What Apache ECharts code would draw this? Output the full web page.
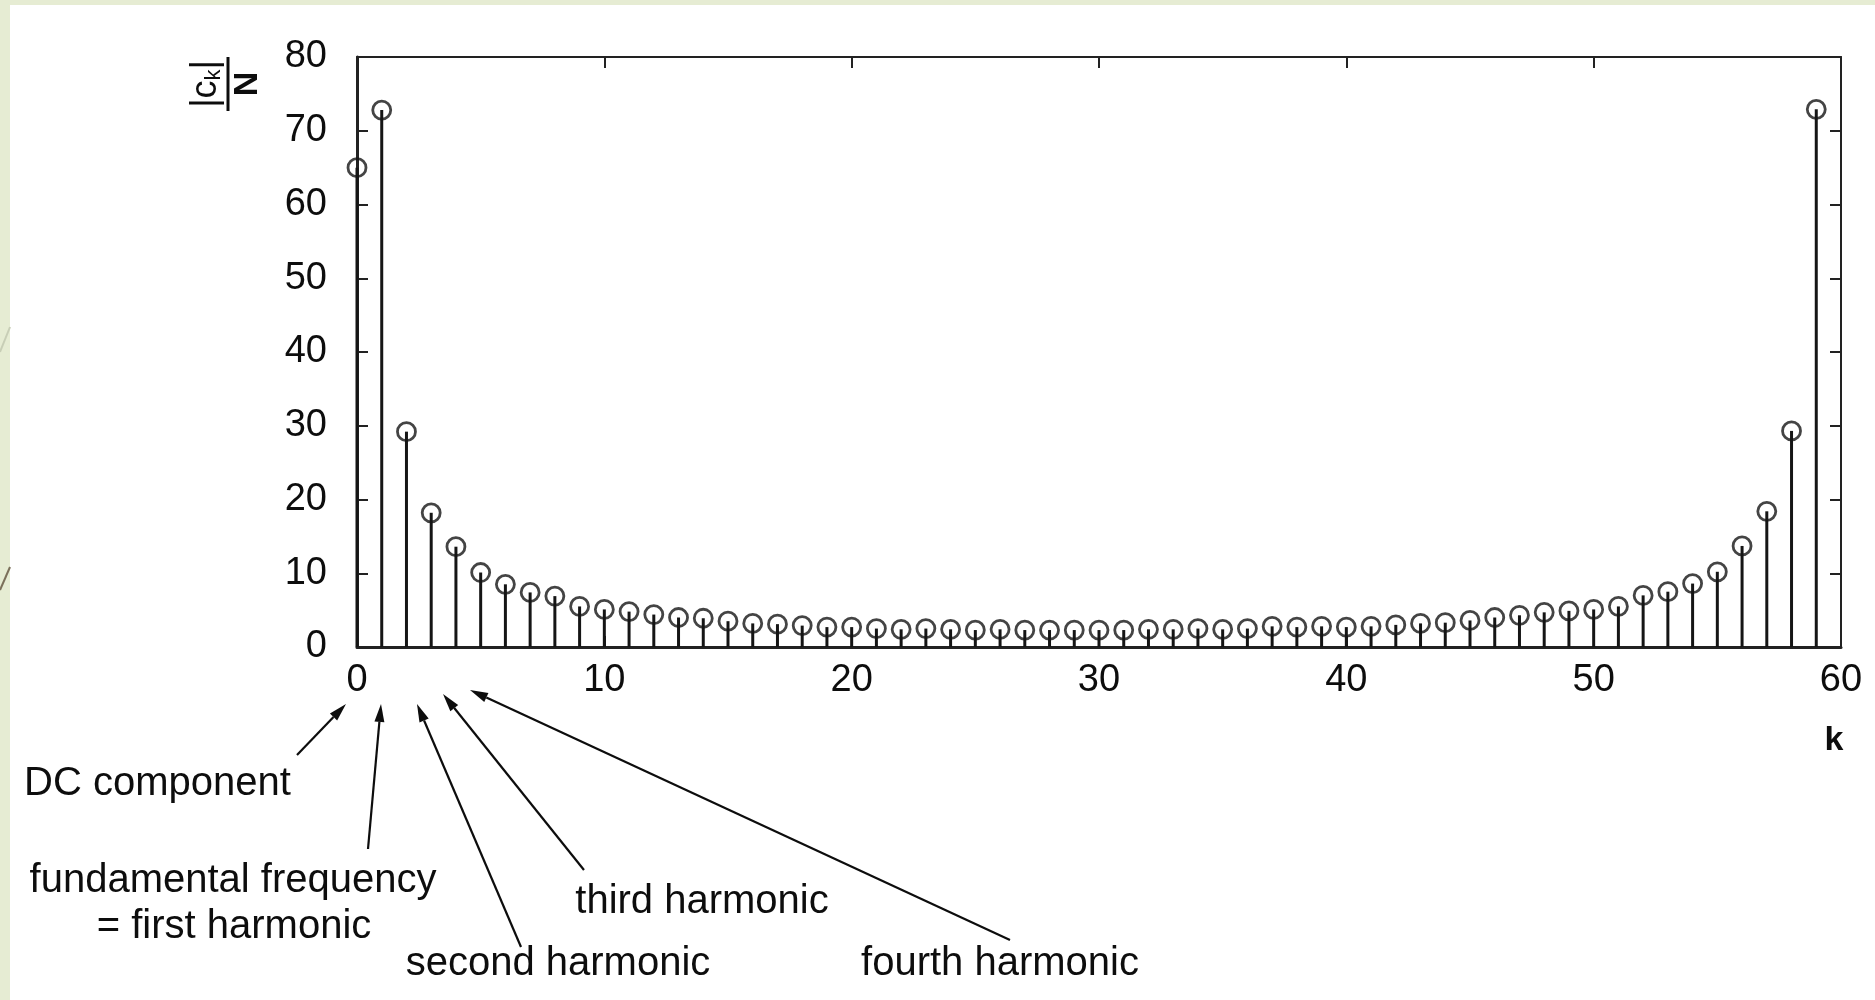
<!DOCTYPE html>
<html>
<head>
<meta charset="utf-8">
<script src="https://cdn.jsdelivr.net/npm/echarts@6/dist/echarts.min.js"></script>
<style>
  html, body { margin: 0; padding: 0; background: #ffffff; }
  #chart { width: 1875px; height: 1000px; }
</style>
</head>
<body>
<div id="chart"></div>
<script>
// ---- data ----
const kIndex = [0,1,2,3,4,5,6,7,8,9,10,11,12,13,14,15,16,17,18,19,20,21,22,23,24,25,26,27,28,29,
                30,31,32,33,34,35,36,37,38,39,40,41,42,43,44,45,46,47,48,49,50,51,52,53,54,55,56,57,58,59];
const magnitude = [65.0,72.8,29.2,18.2,13.6,10.1,8.5,7.4,6.9,5.5,5.1,4.8,4.4,4.0,3.9,3.5,3.2,3.1,2.9,2.7,
                   2.7,2.5,2.4,2.5,2.4,2.3,2.4,2.3,2.3,2.3,2.3,2.3,2.4,2.4,2.5,2.4,2.5,2.8,2.7,2.8,
                   2.7,2.8,3.0,3.2,3.3,3.6,4.0,4.3,4.7,4.9,5.1,5.5,7.0,7.5,8.6,10.2,13.7,18.4,29.3,72.9];
const xTickValues = [0,10,20,30,40,50,60];
const yTickValues = [0,10,20,30,40,50,60,70,80];
const annotationTexts = ['DC component','fundamental frequency','= first harmonic','second harmonic','third harmonic','fourth harmonic'];
const xAxisName = 'k';

const points = kIndex.map((k, i) => [k, magnitude[i]]);

const FONT = '"Liberation Sans", Arial, Helvetica, sans-serif';
const INK = '#0d0d0d';

function arrow(x1, y1, x2, y2) {
  const dx = x2 - x1, dy = y2 - y1;
  const len = Math.sqrt(dx*dx + dy*dy);
  const ux = dx/len, uy = dy/len;
  const hl = 18, hw = 5;
  const bx = x2 - ux*hl, by = y2 - uy*hl;
  return [
    { type: 'line', shape: { x1: x1, y1: y1, x2: bx, y2: by }, style: { stroke: INK, lineWidth: 2.2 }, z: 10 },
    { type: 'polygon', shape: { points: [[x2, y2], [bx - uy*hw, by + ux*hw], [bx + uy*hw, by - ux*hw]] }, style: { fill: INK }, z: 10 }
  ];
}

function label(text, x, y, align) {
  return { type: 'text', x: x, y: y, z: 10,
    style: { text: text, font: '40px ' + FONT, fill: INK, align: align || 'center', verticalAlign: 'middle' } };
}

const chart = echarts.init(document.getElementById('chart'), null, { renderer: 'canvas' });

const axisLabelStyle = { fontSize: 38, color: INK, fontFamily: FONT };

chart.setOption({
  backgroundColor: '#ffffff',
  animation: false,
  grid: { left: 357, top: 57, right: 34, bottom: 353, containLabel: false, outerBoundsMode: 'none' },
  xAxis: [
    { type: 'value', min: xTickValues[0], max: xTickValues[xTickValues.length-1], interval: 10, position: 'bottom',
      axisLine: { show: true, onZero: false, lineStyle: { color: '#222', width: 3 } },
      axisTick: { show: true, inside: true, length: 11, lineStyle: { color: '#222', width: 2 } },
      axisLabel: Object.assign({ margin: 15 }, axisLabelStyle),
      splitLine: { show: false } },
    { type: 'value', min: xTickValues[0], max: xTickValues[xTickValues.length-1], interval: 10, position: 'top',
      axisLine: { show: true, onZero: false, lineStyle: { color: '#222', width: 2 } },
      axisTick: { show: true, inside: true, length: 11, lineStyle: { color: '#222', width: 2 } },
      axisLabel: { show: false }, splitLine: { show: false } }
  ],
  yAxis: [
    { type: 'value', min: yTickValues[0], max: yTickValues[yTickValues.length-1], interval: 10, position: 'left',
      axisLine: { show: true, onZero: false, lineStyle: { color: '#222', width: 3 } },
      axisTick: { show: true, inside: true, length: 11, lineStyle: { color: '#222', width: 2 } },
      axisLabel: Object.assign({ margin: 30 }, axisLabelStyle),
      splitLine: { show: false } },
    { type: 'value', min: yTickValues[0], max: yTickValues[yTickValues.length-1], interval: 10, position: 'right',
      axisLine: { show: true, onZero: false, lineStyle: { color: '#222', width: 2 } },
      axisTick: { show: true, inside: true, length: 11, lineStyle: { color: '#222', width: 2 } },
      axisLabel: { show: false }, splitLine: { show: false } }
  ],
  series: [
    { type: 'bar', xAxisIndex: 0, yAxisIndex: 0, data: points, barWidth: 3,
      itemStyle: { color: '#151515' }, silent: true, z: 2 },
    { type: 'scatter', xAxisIndex: 0, yAxisIndex: 0, data: points, symbol: 'circle', symbolSize: 18,
      itemStyle: { color: 'rgba(255,255,255,0)', borderColor: '#151515', borderWidth: 2.8 }, silent: true, z: 3 }
  ],
  graphic: [
    // slide background strips
    { type: 'rect', shape: { x: 0, y: 0, width: 10, height: 1000 }, style: { fill: '#e6ecd3' }, z: 0 },
    { type: 'rect', shape: { x: 0, y: 0, width: 1875, height: 5 }, style: { fill: '#e6ecd3' }, z: 0 },
    { type: 'line', shape: { x1: 0, y1: 352, x2: 10, y2: 327 }, style: { stroke: '#c8ceb6', lineWidth: 2 }, z: 1 },
    { type: 'line', shape: { x1: 0, y1: 590, x2: 10, y2: 567 }, style: { stroke: '#7b705a', lineWidth: 2 }, z: 1 },
    // y-axis title |c_k| / N, rotated
    { type: 'group', x: 228, y: 84, rotation: Math.PI / 2, z: 10, children: [
      { type: 'line', shape: { x1: -27, y1: 0, x2: 27, y2: 0 }, style: { stroke: INK, lineWidth: 3 } },
      { type: 'text', x: 0, y: -22, style: {
          text: '|c{s|k}|', font: '36px ' + FONT, fill: INK, align: 'center', verticalAlign: 'middle',
          rich: { s: { fontSize: 22, fontFamily: FONT, fill: INK, padding: [16, 0, 0, 0] } } } },
      { type: 'text', x: 0, y: 20, style: { text: 'N', font: 'bold 34px ' + FONT, fill: INK, align: 'center', verticalAlign: 'middle' } }
    ] },
    // x-axis name
    { type: 'text', x: 1834, y: 741, z: 10, style: { text: xAxisName, font: 'bold 34px ' + FONT, fill: INK, align: 'center', verticalAlign: 'middle' } },
    // annotations
    label(annotationTexts[0], 24, 784, 'left'),
    label(annotationTexts[1], 233, 881),
    label(annotationTexts[2], 234, 927),
    label(annotationTexts[3], 558, 964),
    label(annotationTexts[4], 702, 902),
    label(annotationTexts[5], 1000, 964),
    ...arrow(297, 755, 346, 704),
    ...arrow(368, 849, 381, 704),
    ...arrow(521, 947, 417, 704),
    ...arrow(584, 870, 443, 694),
    ...arrow(1010, 940, 470, 690)
  ]
});
</script>
</body>
</html>
